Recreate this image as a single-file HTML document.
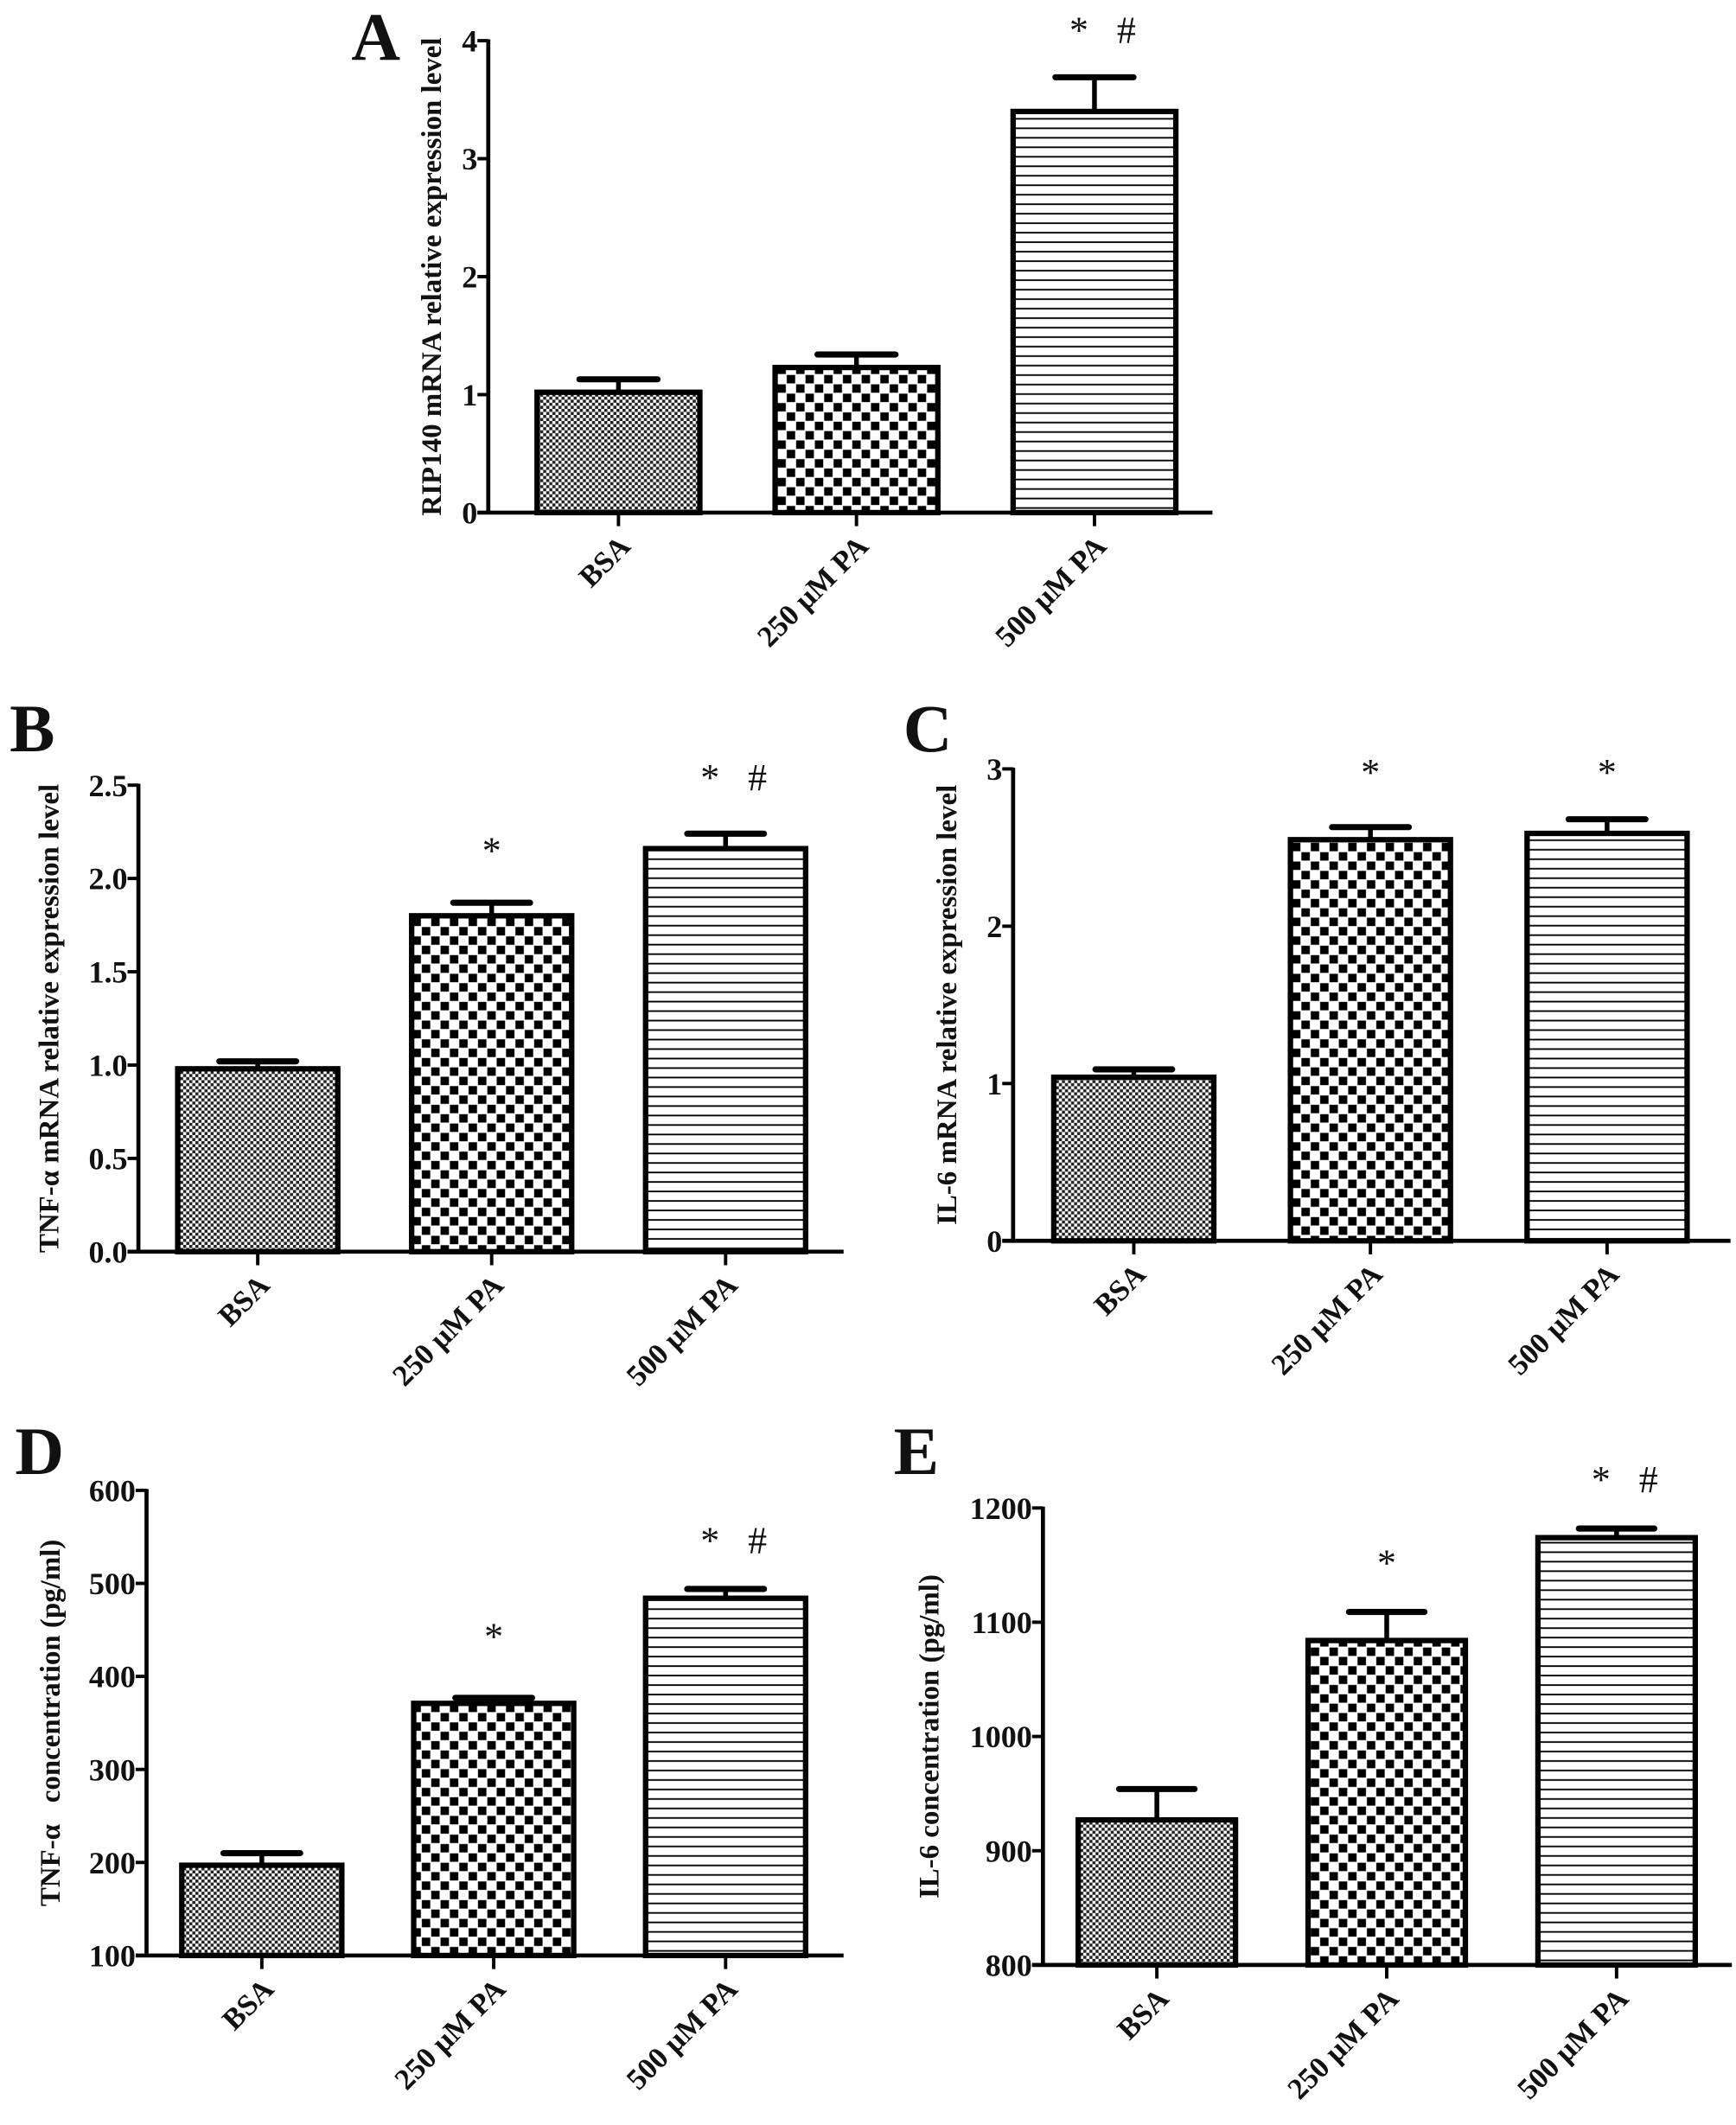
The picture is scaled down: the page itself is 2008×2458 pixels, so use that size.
<!DOCTYPE html>
<html><head><meta charset="utf-8"><style>
html,body{margin:0;padding:0;background:#fff;}
svg{display:block;}
text{font-family:"Liberation Serif",serif;fill:#111;white-space:pre;}
</style></head><body>
<svg id="fig" width="2008" height="2458" viewBox="0 0 1280 1567" xmlns="http://www.w3.org/2000/svg">
<defs>
<pattern id="pFine" patternUnits="userSpaceOnUse" width="4.5" height="4.5">
<rect width="4.5" height="4.5" fill="#fff"/><rect width="2.25" height="2.25" fill="#222"/><rect x="2.25" y="2.25" width="2.25" height="2.25" fill="#222"/>
</pattern>
<pattern id="pCheck" patternUnits="userSpaceOnUse" width="13.8" height="13.8">
<rect width="13.8" height="13.8" fill="#fff"/><rect x="0.5" y="0.5" width="6.2" height="6.2" fill="#000"/><rect x="7.4" y="7.4" width="6.2" height="6.2" fill="#000"/>
</pattern>
<pattern id="pLines" patternUnits="userSpaceOnUse" width="10" height="7">
<rect width="10" height="7" fill="#fff"/><rect y="3" width="10" height="1.2" fill="#000"/>
</pattern>
</defs>
</svg>
<script>
const categories = ["BSA", "250 \u03bcM PA", "500 \u03bcM PA"];
const aValues = [1.02, 1.23, 3.40];
const aErrors = [1.13, 1.34, 3.69];
const aTicks = [0, 1, 2, 3, 4];
const aTickLabels = ["0", "1", "2", "3", "4"];
const aAnnot = ["", "", "*   #"];
const bValues = [0.98, 1.80, 2.16];
const bErrors = [1.02, 1.87, 2.24];
const bTicks = [0, 0.5, 1.0, 1.5, 2.0, 2.5];
const bTickLabels = ["0.0", "0.5", "1.0", "1.5", "2.0", "2.5"];
const bAnnot = ["", "*", "*   #"];
const cValues = [1.04, 2.55, 2.59];
const cErrors = [1.09, 2.63, 2.68];
const cTicks = [0, 1, 2, 3];
const cTickLabels = ["0", "1", "2", "3"];
const cAnnot = ["", "*", "*"];
const dValues = [197, 371, 484];
const dErrors = [210, 377, 494];
const dTicks = [100, 200, 300, 400, 500, 600];
const dTickLabels = ["100", "200", "300", "400", "500", "600"];
const dAnnot = ["", "*", "*   #"];
const eValues = [927, 1084, 1174];
const eErrors = [954, 1109, 1182];
const eTicks = [800, 900, 1000, 1100, 1200];
const eTickLabels = ["800", "900", "1000", "1100", "1200"];
const eAnnot = ["", "*", "*   #"];

const NS = "http://www.w3.org/2000/svg";
const svg = document.getElementById("fig");
const fills = ["url(#pFine)", "url(#pCheck)", "url(#pLines)"];
function mk(tag, attrs, parent) {
  const e = document.createElementNS(NS, tag);
  for (const k in attrs) e.setAttribute(k, attrs[k]);
  parent.appendChild(e);
  return e;
}
function panel(cfg) {
  const g = mk("g", {}, svg);
  
  
  const ymin = cfg.ticks[0], ymax = cfg.ticks[cfg.ticks.length - 1];
  const y = v => cfg.y0 + (v - ymin) / (ymax - ymin) * (cfg.y1 - cfg.y0);
  const xStep = (cfg.xc[1] - cfg.xc[0]);
  const x = i => cfg.xc[0] + i * xStep;
  const L = mk("text", {x: cfg.letter[0], y: cfg.letter[1], "font-size": 50, "font-weight": "bold"}, g);
  L.textContent = cfg.id.toUpperCase();
  
  
  cfg.values.forEach((v, i) => {
    const top = y(v), bw = cfg.bw, cx = x(i);
    const eb = mk("line", {x1: cx, x2: cx, y1: top, y2: y(cfg.errors[i]), stroke: "#000", "stroke-width": 3.5}, g);
    
    
    const cap = mk("line", {x1: cx - bw * 0.24, x2: cx + bw * 0.24, y1: y(cfg.errors[i]), y2: y(cfg.errors[i]), stroke: "#000", "stroke-width": 4.5, "stroke-linecap": "round"}, g);
    
    
    const r = mk("rect", {x: cx - bw / 2, y: top, width: bw, height: cfg.y0 - top, fill: fills[i], stroke: "#000", "stroke-width": 4}, g);
    
    
    if (cfg.annot[i]) {
      const a = mk("text", {x: cx + (cfg.annot[i].length > 1 ? 6 : 0), y: y(cfg.annotV[i]) + 12, "font-size": 28, "text-anchor": "middle"}, g);
      a.textContent = cfg.annot[i];
      
      
    }
    const xt = mk("line", {x1: cx, x2: cx, y1: cfg.y0, y2: cfg.y0 + 10, stroke: "#000", "stroke-width": 2.5}, g);
    
    
    const lx = cx + 10, ly = cfg.y0 + 26;
    const t = mk("text", {x: lx, y: ly, "font-size": 22, "font-weight": "bold", "text-anchor": "end", transform: "rotate(-45 " + lx + " " + ly + ")"}, g);
    t.textContent = categories[i];
    
    
  });
  const ya = mk("line", {x1: cfg.ax, x2: cfg.ax, y1: y(ymax) - 1, y2: cfg.y0, stroke: "#000", "stroke-width": 3}, g);
  
  
  const xa = mk("line", {x1: cfg.ax - 8, x2: cfg.axEnd, y1: cfg.y0, y2: cfg.y0, stroke: "#000", "stroke-width": 3}, g);
  
  
  cfg.ticks.forEach((tv, k) => {
    const tl = mk("line", {x1: cfg.ax - 8, x2: cfg.ax, y1: y(tv), y2: y(tv), stroke: "#000", "stroke-width": 2.5}, g);
    
    
    const tt = mk("text", {x: cfg.ax - 8, y: y(tv) + 8, "font-size": 23, "font-weight": "bold", "text-anchor": "end"}, g);
    tt.textContent = cfg.tickLabels[k];
    
    
  });
  const ty = (cfg.y0 + y(ymax)) / 2;
  const yt = mk("text", {x: cfg.titleX, y: ty, "font-size": 21, "font-weight": "bold", "text-anchor": "middle", transform: "rotate(-90 " + cfg.titleX + " " + ty + ")"}, g);
  yt.textContent = cfg.title;
  
  
}
panel({id: "a", letter: [259, 44], ax: 360, axEnd: 894, y0: 378, y1: 30, xc: [456, 631.5], bw: 120,
  values: aValues, errors: aErrors, ticks: aTicks, tickLabels: aTickLabels, annot: aAnnot, annotV: [0, 0, 4.12],
  titleX: 325, title: "RIP140 mRNA relative expression level"});
panel({id: "b", letter: [7, 554], ax: 102, axEnd: 622, y0: 923, y1: 579, xc: [190, 362.5], bw: 118,
  values: bValues, errors: bErrors, ticks: bTicks, tickLabels: bTickLabels, annot: bAnnot, annotV: [0, 2.17, 2.56],
  titleX: 43, title: "TNF-\u03b1 mRNA relative expression level"});
panel({id: "c", letter: [666, 554], ax: 747, axEnd: 1276, y0: 915, y1: 567, xc: [836, 1010.5], bw: 118,
  values: cValues, errors: cErrors, ticks: cTicks, tickLabels: cTickLabels, annot: cAnnot, annotV: [0, 3.0, 3.0],
  titleX: 705, title: "IL-6 mRNA relative expression level"});
panel({id: "d", letter: [11, 1087], ax: 108, axEnd: 622, y0: 1442, y1: 1099, xc: [193, 364], bw: 118,
  values: dValues, errors: dErrors, ticks: dTicks, tickLabels: dTickLabels, annot: dAnnot, annotV: [0, 447, 550],
  titleX: 44, title: "TNF-\u03b1   concentration (pg/ml)"});
panel({id: "e", letter: [659, 1087], ax: 769, axEnd: 1277, y0: 1449, y1: 1112, xc: [853, 1022.5], bw: 116,
  values: eValues, errors: eErrors, ticks: eTicks, tickLabels: eTickLabels, annot: eAnnot, annotV: [0, 1155, 1228],
  titleX: 692, title: "IL-6 concentration (pg/ml)"});
</script>
</body></html>
